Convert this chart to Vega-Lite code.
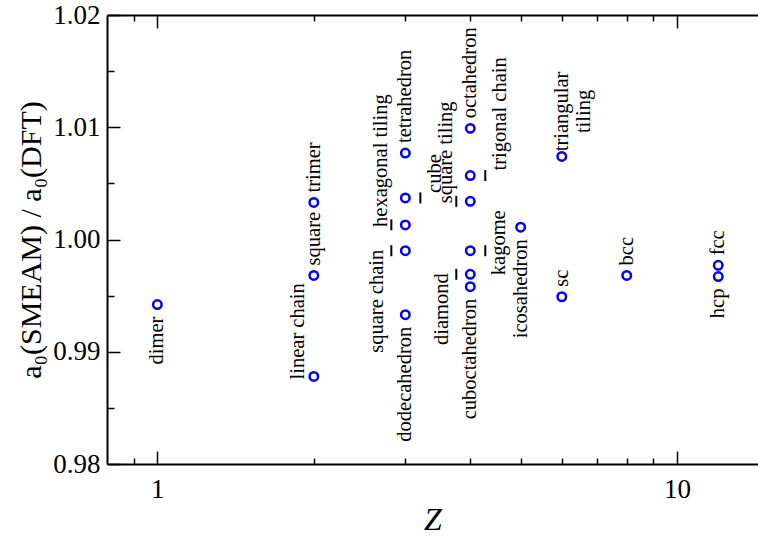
{
  "$schema": "https://vega.github.io/schema/vega-lite/v6.json",
  "width": 651,
  "height": 449,
  "autosize": {"type": "none"},
  "padding": {"left": 107, "top": 15, "right": 0, "bottom": 72},
  "config": {
    "view": {"stroke": null},
    "font": "Liberation Serif",
    "axis": {
      "grid": false,
      "domainColor": "black",
      "tickColor": "black",
      "labelColor": "black",
      "titleColor": "black",
      "labelFont": "Liberation Serif",
      "titleFont": "Liberation Serif",
      "titleFontWeight": "normal",
      "labelOverlap": false,
      "labelFlush": false,
      "tickWidth": 1.5,
      "domainWidth": 2
    }
  },
  "data": {
    "values": [
      {"name": "dimer", "Z": 1, "a0": 0.9942, "place": "below"},
      {"name": "linear chain", "Z": 2, "a0": 0.9878, "place": "left"},
      {"name": "square", "Z": 2, "a0": 0.9968, "place": "above"},
      {"name": "trimer", "Z": 2, "a0": 1.0033, "place": "above"},
      {"name": "dodecahedron", "Z": 3, "a0": 0.9933, "place": "below"},
      {"name": "square chain", "Z": 3, "a0": 0.999, "place": "leftdown"},
      {"name": "hexagonal tiling", "Z": 3, "a0": 1.0013, "place": "leftup"},
      {"name": "cube", "Z": 3, "a0": 1.0037, "place": "rightup"},
      {"name": "tetrahedron", "Z": 3, "a0": 1.0077, "place": "above"},
      {"name": "octahedron", "Z": 4, "a0": 1.0099, "place": "above"},
      {"name": "trigonal chain", "Z": 4, "a0": 1.0057, "place": "rightup"},
      {"name": "square tiling", "Z": 4, "a0": 1.0034, "place": "leftup"},
      {"name": "kagome", "Z": 4, "a0": 0.999, "place": "rightcenter"},
      {"name": "diamond", "Z": 4, "a0": 0.9969, "place": "leftdown"},
      {"name": "cuboctahedron", "Z": 4, "a0": 0.9958, "place": "below"},
      {"name": "icosahedron", "Z": 5, "a0": 1.0011, "place": "below"},
      {"name": "triangular\ntiling", "Z": 6, "a0": 1.0074, "place": "two"},
      {"name": "sc", "Z": 6, "a0": 0.9949, "place": "above"},
      {"name": "bcc", "Z": 8, "a0": 0.9968, "place": "above"},
      {"name": "fcc", "Z": 12, "a0": 0.9977, "place": "above"},
      {"name": "hcp", "Z": 12, "a0": 0.9967, "place": "below"}
    ]
  },
  "resolve": {"axis": {"x": "independent", "y": "independent"}},
  "layer": [
    {
      "mark": {"type": "point", "shape": "circle", "filled": false, "color": "#0000ff", "strokeWidth": 2.5, "size": 72, "opacity": 1},
      "encoding": {
        "x": {
          "field": "Z", "type": "quantitative",
          "scale": {"type": "log", "domain": [0.8, 14.31], "nice": false},
          "axis": {
            "orient": "bottom", "values": [1, 10], "format": "d",
            "tickSize": -13, "labelPadding": 25, "labelFontSize": 27,
            "title": "Z", "titleFontStyle": "italic", "titleFontSize": 32, "titlePadding": 2
          }
        },
        "y": {
          "field": "a0", "type": "quantitative",
          "scale": {"domain": [0.98, 1.02], "nice": false, "zero": false},
          "axis": {
            "orient": "left", "values": [0.98, 0.99, 1.0, 1.01, 1.02], "format": ".2f",
            "tickSize": -13, "labelPadding": 20, "labelFontSize": 27,
            "title": "a₀(SMEAM) / a₀(DFT)", "titleFontSize": 30, "titlePadding": 6
          }
        }
      }
    },
    {
      "transform": [{"filter": "datum.place == 'above'"}],
      "mark": {"type": "text", "angle": 270, "fontSize": 20.5, "baseline": "middle", "align": "left", "dx": 10, "color": "black"},
      "encoding": {
        "x": {"field": "Z", "type": "quantitative", "axis": {"orient": "bottom", "values": [0.9, 2, 3, 4, 5, 6, 7, 8, 9], "tickSize": -6, "labels": false, "domain": false, "title": null}},
        "y": {"field": "a0", "type": "quantitative", "axis": {"orient": "left", "values": [0.985, 0.995, 1.005, 1.015], "tickSize": -7, "labels": false, "domain": false, "title": null}},
        "text": {"field": "name"}
      }
    },
    {
      "transform": [{"filter": "datum.place == 'below'"}],
      "mark": {"type": "text", "angle": 270, "fontSize": 20.5, "baseline": "middle", "align": "right", "dx": -12, "color": "black"},
      "encoding": {
        "x": {"field": "Z", "type": "quantitative", "axis": {"orient": "top", "values": [1, 10], "tickSize": -13, "labels": false, "title": null}},
        "y": {"field": "a0", "type": "quantitative", "axis": null},
        "text": {"field": "name"}
      }
    },
    {
      "transform": [{"filter": "datum.place == 'left'"}],
      "mark": {"type": "text", "angle": 270, "fontSize": 20.5, "baseline": "middle", "align": "left", "dx": -3, "dy": -16, "color": "black"},
      "encoding": {
        "x": {"field": "Z", "type": "quantitative", "axis": {"orient": "top", "values": [0.9, 2, 3, 4, 5, 6, 7, 8, 9], "tickSize": -6, "labels": false, "domain": false, "title": null}},
        "y": {"field": "a0", "type": "quantitative", "axis": null},
        "text": {"field": "name"}
      }
    },
    {
      "transform": [{"filter": "datum.place == 'leftup'"}],
      "mark": {"type": "text", "angle": 270, "fontSize": 20.5, "baseline": "middle", "align": "left", "dx": -2, "dy": -24, "color": "black"},
      "encoding": {
        "x": {"field": "Z", "type": "quantitative", "axis": null},
        "y": {"field": "a0", "type": "quantitative", "axis": null},
        "text": {"field": "name"}
      }
    },
    {
      "transform": [{"filter": "datum.place == 'leftdown'"}],
      "mark": {"type": "text", "angle": 270, "fontSize": 20.5, "baseline": "middle", "align": "right", "dx": 1, "dy": -28, "color": "black"},
      "encoding": {
        "x": {"field": "Z", "type": "quantitative", "axis": null},
        "y": {"field": "a0", "type": "quantitative", "axis": null},
        "text": {"field": "name"}
      }
    },
    {
      "transform": [{"filter": "datum.place == 'rightup'"}],
      "mark": {"type": "text", "angle": 270, "fontSize": 20.5, "baseline": "middle", "align": "left", "dx": 5, "dy": 30, "color": "black"},
      "encoding": {
        "x": {"field": "Z", "type": "quantitative", "axis": null},
        "y": {"field": "a0", "type": "quantitative", "axis": null},
        "text": {"field": "name"}
      }
    },
    {
      "transform": [{"filter": "datum.place == 'rightcenter'"}],
      "mark": {"type": "text", "angle": 270, "fontSize": 20.5, "baseline": "middle", "align": "center", "dx": 8, "dy": 29, "color": "black"},
      "encoding": {
        "x": {"field": "Z", "type": "quantitative", "axis": null},
        "y": {"field": "a0", "type": "quantitative", "axis": null},
        "text": {"field": "name"}
      }
    },
    {
      "transform": [{"filter": "datum.place == 'two'"}],
      "mark": {"type": "text", "angle": 270, "fontSize": 20.5, "baseline": "middle", "align": "center", "dx": 45, "dy": 0, "lineBreak": "\n", "lineHeight": 22, "color": "black"},
      "encoding": {
        "x": {"field": "Z", "type": "quantitative", "axis": null},
        "y": {"field": "a0", "type": "quantitative", "axis": null},
        "text": {"field": "name"}
      }
    },
    {
      "transform": [{"filter": "datum.place == 'leftup' || datum.place == 'leftdown'"}],
      "mark": {"type": "tick", "orient": "vertical", "color": "black", "size": 11, "thickness": 2, "xOffset": -14, "opacity": 1},
      "encoding": {
        "x": {"field": "Z", "type": "quantitative", "axis": null},
        "y": {"field": "a0", "type": "quantitative", "axis": null}
      }
    },
    {
      "transform": [{"filter": "datum.place == 'rightup' || datum.place == 'rightcenter'"}],
      "mark": {"type": "tick", "orient": "vertical", "color": "black", "size": 11, "thickness": 2, "xOffset": 15, "opacity": 1},
      "encoding": {
        "x": {"field": "Z", "type": "quantitative", "axis": null},
        "y": {"field": "a0", "type": "quantitative", "axis": null}
      }
    }
  ]
}
